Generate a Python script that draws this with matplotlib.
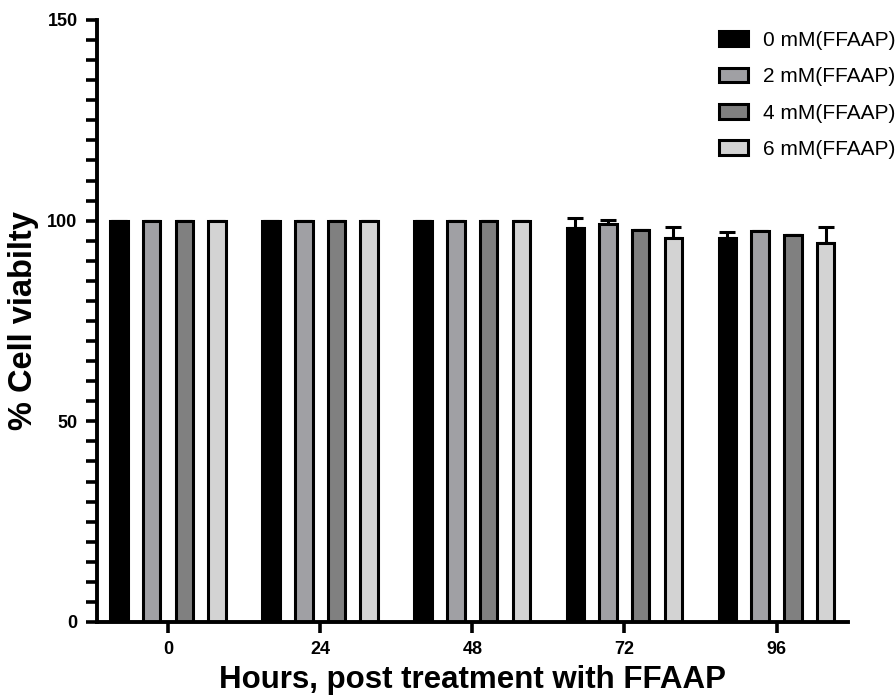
import numpy as np
import matplotlib.pyplot as plt
from matplotlib.ticker import MultipleLocator

plt.rcParams["font.family"] = ["Liberation Sans", "DejaVu Sans"]

# data
hours = ["0", "24", "48", "72", "96"]
labels = ["0 mM(FFAAP)", "2 mM(FFAAP)", "4 mM(FFAAP)", "6 mM(FFAAP)"]
viab_0mM = [100, 100, 100, 98.2, 95.7]
viab_2mM = [100, 100, 100, 99.2, 97.4]
viab_4mM = [100, 100, 100, 97.7, 96.5]
viab_6mM = [100, 100, 100, 95.7, 94.5]
err_0mM = [0, 0, 0, 2.5, 1.5]
err_2mM = [0, 0, 0, 1.0, 0]
err_4mM = [0, 0, 0, 0, 0]
err_6mM = [0, 0, 0, 2.7, 4.0]

colors = ["#000000", "#a0a0a4", "#808080", "#d3d3d3"]

fig = plt.figure(figsize=(8.96, 7.0), dpi=100)
ax = fig.add_axes([97 / 896, 78 / 700, 751 / 896, 602 / 700])

x = np.arange(len(hours))
step = 0.215
width = 0.115
series = [viab_0mM, viab_2mM, viab_4mM, viab_6mM]
errs = [err_0mM, err_2mM, err_4mM, err_6mM]
for i, (vals, e) in enumerate(zip(series, errs)):
    pos = x + (i - 1.5) * step
    ax.bar(pos, vals, width, color=colors[i], edgecolor="black",
           linewidth=2.2, label=labels[i], zorder=2)
    ax.errorbar(pos, vals, yerr=[np.zeros(len(e)), e], fmt="none",
                ecolor="black", elinewidth=2.2, capsize=6, capthick=2.2,
                zorder=1)

ax.set_xlim(-0.467, 4.47)
ax.set_ylim(0, 150)
ax.set_xticks(x)
ax.set_xticklabels(hours)
ax.set_yticks([0, 50, 100, 150])
ax.yaxis.set_minor_locator(MultipleLocator(5))

for s in ["top", "right"]:
    ax.spines[s].set_visible(False)
for s in ["left", "bottom"]:
    ax.spines[s].set_linewidth(2.8)

ax.tick_params(axis="both", which="major", direction="out", length=8,
               width=2.6, labelsize=13, pad=6)
ax.tick_params(axis="y", which="minor", direction="out", length=8,
               width=2.6)
for t in ax.get_xticklabels() + ax.get_yticklabels():
    t.set_fontweight("bold")

ax.set_ylabel("% Cell viabilty", fontsize=23.5, fontweight="bold", labelpad=6)
ax.set_xlabel("Hours, post treatment with FFAAP", fontsize=22.5,
              fontweight="bold", labelpad=5)

leg = ax.legend(loc="upper left", bbox_to_anchor=(719 / 896, 1 - 31 / 700),
                bbox_transform=fig.transFigure, frameon=False, fontsize=15,
                handlelength=1.4, handleheight=0.72, labelspacing=0.83,
                handletextpad=0.7, borderaxespad=0, borderpad=0)

fig.savefig("out.png", dpi=100)
